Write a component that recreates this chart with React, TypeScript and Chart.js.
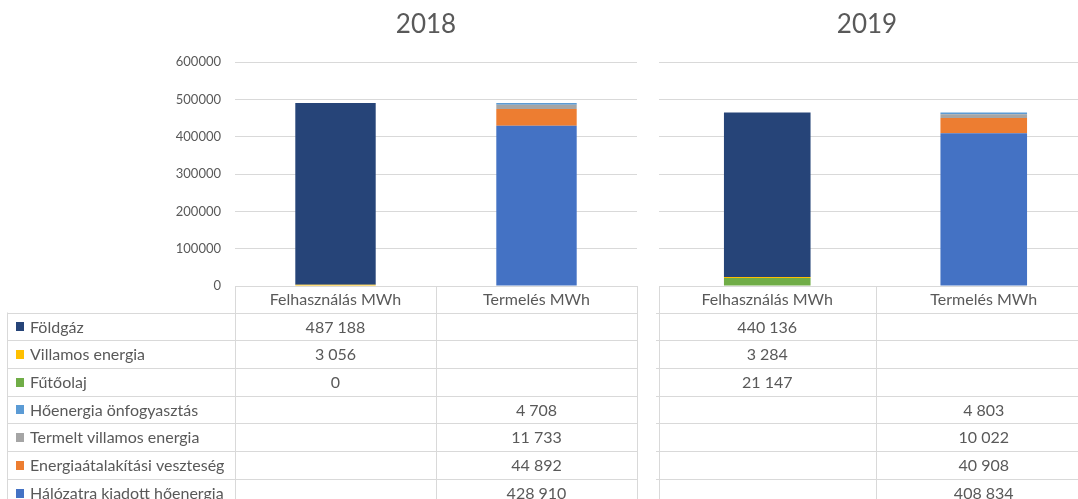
import React, { useEffect, useRef } from 'react';
import { Chart, registerables } from 'chart.js';
Chart.register(...registerables);

const categories = ['Felhasználás MWh', 'Termelés MWh'];
const seriesNames = [
  'Földgáz',
  'Villamos energia',
  'Fűtőolaj',
  'Hőenergia önfogyasztás',
  'Termelt villamos energia',
  'Energiaátalakítási veszteség',
  'Hálózatra kiadott hőenergia',
];
const seriesColors = ['#264478', '#FFC000', '#70AD47', '#5B9BD5', '#A5A5A5', '#ED7D31', '#4472C4'];

const felhasznalas2018 = [487188, 3056, 0, null, null, null, null];
const termeles2018 = [null, null, null, 4708, 11733, 44892, 428910];
const felhasznalas2019 = [440136, 3284, 21147, null, null, null, null];
const termeles2019 = [null, null, null, 4803, 10022, 40908, 408834];

const yMin = 0;
const yMax = 600000;
const yStep = 100000;

const FONT = 'Lato, "Open Sans", sans-serif';
const TEXT = '#595959';
const LINE = '#d9d9d9';

const fmt = (v: number | null) =>
  v === null ? '' : String(v).replace(/\B(?=(\d{3})+(?!\d))/g, ' ');

const tablePlugin = {
  id: 'dataTable',
  afterDraw(chart: any, _args: any, opts: any) {
    const { ctx, chartArea } = chart;
    const xs = chart.scales.x;
    const L = chartArea.left;
    const R = chartArea.right;
    const B = chartArea.bottom;
    const mid = (xs.getPixelForValue(0) + xs.getPixelForValue(1)) / 2;
    const headerH = 26.5;
    const rowH = 27.7;
    const nRows = seriesNames.length;
    const bottom = B + headerH + rowH * nRows;
    const tableLeft = opts.showLegend ? 7 : L - 3;
    const cols: (number | null)[][] = opts.columns;

    ctx.save();
    // title
    ctx.fillStyle = TEXT;
    ctx.font = `26px ${FONT}`;
    ctx.textAlign = 'center';
    ctx.textBaseline = 'middle';
    ctx.fillText(opts.title, opts.titleX, 25);

    // lines
    ctx.strokeStyle = LINE;
    ctx.lineWidth = 1;
    const px = (v: number) => Math.round(v) + 0.5;
    ctx.beginPath();
    ctx.moveTo(L, px(B));
    ctx.lineTo(R, px(B));
    for (let i = 0; i < nRows; i++) {
      const y = px(B + headerH + i * rowH);
      ctx.moveTo(tableLeft, y);
      ctx.lineTo(R, y);
    }
    [L, mid, R].forEach((x) => {
      ctx.moveTo(px(x), B);
      ctx.lineTo(px(x), bottom);
    });
    if (opts.showLegend) {
      ctx.moveTo(px(tableLeft), B + headerH);
      ctx.lineTo(px(tableLeft), bottom);
    }
    ctx.stroke();

    // header text
    ctx.font = `16px ${FONT}`;
    ctx.fillStyle = TEXT;
    ctx.textAlign = 'center';
    categories.forEach((c, i) => {
      ctx.fillText(c, xs.getPixelForValue(i), B + headerH / 2 + 1);
    });

    // rows
    for (let r = 0; r < nRows; r++) {
      const cy = B + headerH + r * rowH + rowH / 2 + 1;
      if (opts.showLegend) {
        ctx.fillStyle = seriesColors[r];
        ctx.fillRect(16, Math.round(cy - 5), 8, 9);
        ctx.fillStyle = TEXT;
        ctx.textAlign = 'left';
        ctx.fillText(seriesNames[r], 30, cy);
      }
      ctx.fillStyle = TEXT;
      ctx.textAlign = 'center';
      cols.forEach((col, c) => {
        const t = fmt(col[r]);
        if (t) ctx.fillText(t, xs.getPixelForValue(c), cy);
      });
    }
    ctx.restore();
  },
};

function makeConfig(
  title: string,
  titleX: number,
  felh: (number | null)[],
  term: (number | null)[],
  showLegend: boolean,
  axisWidth: number,
  padLeft: number,
  padRight: number
): any {
  const order = seriesNames.map((_, i) => i).reverse();
  return {
    type: 'bar',
    data: {
      labels: categories,
      datasets: order.map((i) => ({
        label: seriesNames[i],
        data: [felh[i], term[i]],
        backgroundColor: seriesColors[i],
        borderWidth: 0,
        barPercentage: 0.4,
        categoryPercentage: 1,
      })),
    },
    options: {
      animation: false,
      responsive: false,
      maintainAspectRatio: false,
      layout: { padding: { top: 62, bottom: 213, left: padLeft, right: padRight } },
      plugins: {
        legend: { display: false },
        title: { display: false },
        tooltip: { enabled: false },
        dataTable: { title, titleX, showLegend, columns: [felh, term] },
      },
      scales: {
        x: { display: false, stacked: true },
        y: {
          stacked: true,
          min: yMin,
          max: yMax,
          border: { display: false },
          grid: { color: LINE, drawTicks: false, lineWidth: 1 },
          ticks: {
            display: showLegend,
            stepSize: yStep,
            padding: 14,
            color: TEXT,
            font: { family: FONT, size: 13 },
            callback: (v: any) => String(v),
          },
          afterFit: (s: any) => {
            s.width = axisWidth;
          },
        },
      },
    },
    plugins: [tablePlugin],
  };
}

function ChartCanvas({ config, width, height }: { config: any; width: number; height: number }) {
  const ref = useRef<HTMLCanvasElement | null>(null);
  useEffect(() => {
    if (!ref.current) return;
    const chart = new Chart(ref.current, config);
    return () => chart.destroy();
  }, [config]);
  return <canvas ref={ref} width={width} height={height} style={{ display: 'block', width, height }} />;
}

const config2018 = makeConfig('2018', 426, felhasznalas2018, termeles2018, true, 235, 0, 3);
const config2019 = makeConfig('2019', 227, felhasznalas2019, termeles2019, false, 0, 19, 8);

export default function App() {
  return (
    <div
      style={{
        position: 'fixed',
        left: 0,
        top: 0,
        width: 1078,
        height: 499,
        overflow: 'hidden',
        background: '#fff',
      }}
    >
      <div style={{ position: 'absolute', left: 0, top: 0 }}>
        <ChartCanvas config={config2018} width={640} height={499} />
      </div>
      <div style={{ position: 'absolute', left: 640, top: 0 }}>
        <ChartCanvas config={config2019} width={460} height={499} />
      </div>
    </div>
  );
}
